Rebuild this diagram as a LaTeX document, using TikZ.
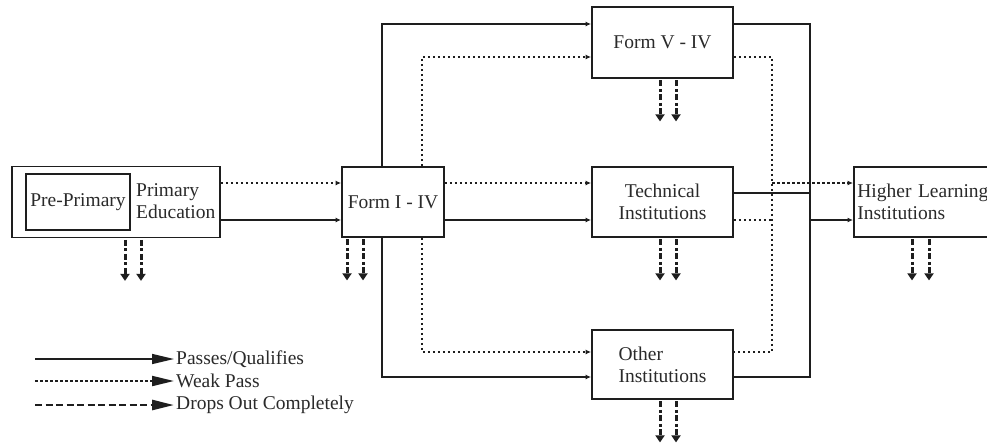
\documentclass[tikz,border=0pt]{standalone}
\usepackage{fontspec}
\setmainfont{Liberation Serif}
\usetikzlibrary{arrows.meta}
\definecolor{lc}{HTML}{1E1E1E}
\definecolor{tc}{HTML}{2A2A2A}
\newcommand\fsz{\fontsize{19.5}{22}\selectfont}
\begin{document}
\begin{tikzpicture}[x=1pt,y=-1pt,
  box/.style={draw=lc, line width=1.8pt, rectangle, inner sep=2pt, font=\fsz, text=tc},
  txt/.style={font=\fsz, text=tc, inner sep=2pt},
  passl/.style={draw=lc, line width=1.5pt},
  pass/.style={passl, -{Latex[length=5.5pt,width=5pt]}},
  weakl/.style={draw=lc, line width=2pt, dash pattern=on 2.5pt off 2.5pt},
  weak/.style={weakl, -{Latex[length=5.5pt,width=5pt]}},
  drop/.style={draw=lc, line width=3pt, dash pattern=on 6pt off 2.5pt on 3pt off 2.5pt, -{Triangle[length=7pt,width=9pt]}},
  bighead/.style={-{Triangle[length=22pt,width=10pt]}}
]
\clip (0,0) rectangle (987,445);
\fill[white] (0,0) rectangle (987,445);

% boxes
\node[box, minimum width=208pt, minimum height=71pt] (prim) at (116,202) {};
\node[box, minimum width=104pt, minimum height=56pt, inner sep=0pt] (pre) at (78,202) {Pre-Primary};
\node[txt, anchor=west, align=left, inner sep=0pt] (primt) at (136,201) {Primary\\Education};
\node[box, minimum width=102pt, minimum height=70pt] (f14) at (393,202) {Form I - IV};
\node[box, minimum width=141pt, minimum height=71pt] (f5) at (662.5,42.5) {Form V - IV};
\node[box, minimum width=141pt, minimum height=70pt, align=center] (tech) at (662.5,202) {Technical\\Institutions};
\node[box, minimum width=141pt, minimum height=69pt, align=left] (other) at (662.5,364.5) {Other\\Institutions};
\node[box, minimum height=70pt, anchor=west, align=left, text width=140pt, inner sep=3.5pt] (hl) at (853,202) {Higher Learning\\Institutions};

% primary -> form I-IV
\draw[weak] ([yshift=19pt]prim.east) -- ([yshift=19pt]f14.west);
\draw[pass] ([yshift=-18pt]prim.east) -- ([yshift=-18pt]f14.west);
% form I-IV -> technical
\draw[weak] ([yshift=19pt]f14.east) -- ([yshift=19pt]tech.west);
\draw[pass] ([yshift=-18pt]f14.east) -- ([yshift=-18pt]tech.west);
% form I-IV -> form V
\draw[pass] ([xshift=-11pt]f14.north) |- ([yshift=18.5pt]f5.west);
\draw[weak] ([xshift=29pt]f14.north) |- ([yshift=-14.5pt]f5.west);
% form I-IV -> other
\draw[pass] ([xshift=-11pt]f14.south) |- ([yshift=-12.5pt]other.west);
\draw[weak] ([xshift=29pt]f14.south) |- ([yshift=12.5pt]other.west);

% right-hand collectors
\coordinate (sTop) at (810,24);
\coordinate (sBot) at (810,377);
\coordinate (sTech) at (810,193);
\coordinate (sMid) at (810,220);
\coordinate (wTop) at (772,57);
\coordinate (wBot) at (772,352);
\coordinate (wTech) at (772,220);
\coordinate (wMid) at (772,183);
\draw[passl] ([yshift=18.5pt]f5.east) -- (sTop) -- (sBot) -- ([yshift=-12.5pt]other.east);
\draw[passl] ([yshift=9pt]tech.east) -- (sTech);
\draw[pass] (sMid) -- ([yshift=-18pt]hl.west);
\draw[weakl] ([yshift=-14.5pt]f5.east) -- (wTop) -- (wBot) -- ([yshift=12.5pt]other.east);
\draw[weakl] ([yshift=-18pt]tech.east) -- (wTech);
\draw[weak] (wMid) -- ([yshift=19pt]hl.west);

% drop-outs
\foreach \n/\a/\b in {prim/9/25, f14/-46/-30, f5/-2.5/13.5, tech/-2.5/13.5, other/-2.5/13.5}{
  \draw[drop] ([xshift=\a pt, yshift=-1.5pt]\n.south) -- ++(0,41);
  \draw[drop] ([xshift=\b pt, yshift=-1.5pt]\n.south) -- ++(0,41);
}
\draw[drop] ([xshift=59pt, yshift=-1.5pt]hl.south west) -- ++(0,41);
\draw[drop] ([xshift=76pt, yshift=-1.5pt]hl.south west) -- ++(0,41);

% legend
\coordinate (l1) at (35,359);
\coordinate (l2) at (35,381);
\coordinate (l3) at (35,405);
\node[txt, anchor=west] (t1) at (174,359) {Passes/Qualifies};
\node[txt, anchor=west] (t2) at (174,381) {Weak Pass};
\node[txt, anchor=west] (t3) at (174,405) {Drops Out Completely};
\draw[passl, bighead] (l1) -- (t1.west);
\draw[weakl, bighead] (l2) -- (t2.west);
\draw[draw=lc, line width=2.6pt, dash pattern=on 7pt off 3.5pt, bighead] (l3) -- (t3.west);
\end{tikzpicture}
\end{document}
